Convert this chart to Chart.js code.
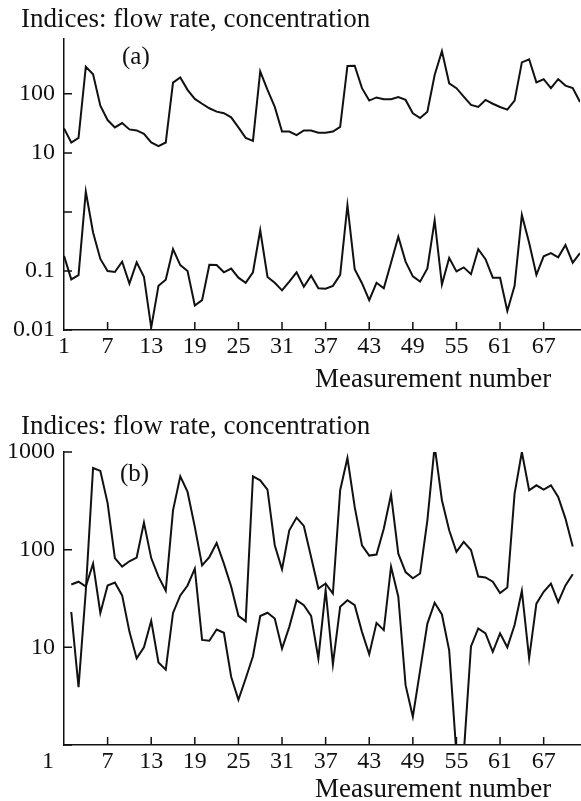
<!DOCTYPE html>
<html>
<head>
<meta charset="utf-8">
<script src="https://cdn.jsdelivr.net/npm/chart.js@4.4.1/dist/chart.umd.min.js"></script>
<style>
  html, body { margin: 0; padding: 0; background: #fff; }
  .panel { position: absolute; left: 0; width: 581px; }
  #panelA { top: 0; height: 400px; }
  #panelB { top: 400px; height: 401px; }
</style>
</head>
<body>
<div class="panel" id="panelA"><canvas id="chartA"></canvas></div>
<div class="panel" id="panelB"><canvas id="chartB"></canvas></div>
<script>
const measurementTicks = [1, 7, 13, 19, 25, 31, 37, 43, 49, 55, 61, 67];

// panel (a): measurements 1..72
const firstMeasurementA = 1;
const flowRateA = [26, 15, 18, 288, 215, 63, 36, 27, 32, 25, 24, 21, 15, 13, 15, 155, 190, 117, 82, 68,
  57, 50, 47, 40, 27, 18, 16, 240, 117, 60, 23, 23, 20, 24, 24, 22, 22, 23, 27.5, 297,
  300, 125, 77, 87, 81, 81, 88, 79, 47, 39, 50, 209, 530, 151, 125, 90, 65, 60, 79, 68,
  60, 54, 77, 342, 385, 157, 177, 125, 178, 138, 125, 73];
const concentrationA = [0.18, 0.072, 0.085, 2.2, 0.45, 0.16, 0.1, 0.096, 0.144, 0.061, 0.14, 0.08, 0.011, 0.056, 0.071, 0.234, 0.126, 0.1, 0.026, 0.032,
  0.127, 0.126, 0.095, 0.11, 0.077, 0.063, 0.095, 0.49, 0.079, 0.063, 0.047, 0.066, 0.095, 0.054, 0.083, 0.051, 0.05, 0.056, 0.086, 1.3,
  0.107, 0.062, 0.032, 0.063, 0.051, 0.138, 0.38, 0.144, 0.081, 0.066, 0.11, 0.72, 0.059, 0.166, 0.098, 0.115, 0.088, 0.234, 0.158, 0.077,
  0.077, 0.021, 0.056, 0.89, 0.3, 0.086, 0.177, 0.2, 0.17, 0.275, 0.138, 0.2];
const yTicksA = [0.01, 0.1, 1, 10, 100];
const yLabelsA = ['0.01', '0.1', '', '10', '100'];

// panel (b): measurements 2..71
const firstMeasurementB = 2;
const flowRateB = [23, 3.9, 38, 686, 640, 300, 82, 67, 76, 83, 189, 82, 53, 38, 253, 563, 390, 171, 69,
  84, 117, 72, 42, 21, 18.5, 564, 513, 412, 111, 63, 158, 213, 175, 84, 40, 45, 35.6, 406, 868,
  274, 111, 87, 89, 164, 366, 91, 59, 51, 57, 200, 1150, 321, 158, 95, 120, 99, 53, 52, 47,
  36, 41, 375, 1000, 406, 456, 412, 456, 347, 208, 108];
const concentrationB = [44, 47, 42, 72, 22.5, 43, 46, 34, 14.5, 7.7, 10, 18.7, 7, 5.9, 22.5, 34, 43, 64, 11.9,
  11.7, 15.2, 14.1, 5, 2.9, 4.8, 8.1, 20.9, 22.6, 19.7, 9.7, 16.2, 30.4, 27, 21, 7.7, 38.5, 6.7, 26, 30.4,
  27, 14.4, 8.5, 17.8, 15, 67, 33, 4.1, 1.95, 5.8, 17.5, 28.6, 21.7, 9.3, 0.8, 0.8, 10.2, 15.6, 13.9, 9,
  13.9, 10, 16.9, 37.8, 7.7, 28, 37, 45, 29, 43, 56];
const yTicksB = [1, 10, 100, 1000];
const yLabelsB = ['', '10', '100', '1000'];

const FONT = '"Liberation Serif", "Times New Roman", serif';
const INK = '#111';

function toPoints(values, first) {
  return values.map((v, i) => ({ x: first + i, y: v }));
}

// inward tick marks plus the free-standing texts of each panel
const panelText = {
  id: 'panelText',
  afterDraw(chart, args, opts) {
    const ctx = chart.ctx;
    const xs = chart.scales.x, ys = chart.scales.y;
    const area = chart.chartArea;
    ctx.save();
    ctx.strokeStyle = INK;
    ctx.lineWidth = 1.5;
    ctx.beginPath();
    opts.yTicks.forEach(v => {
      const py = ys.getPixelForValue(v);
      ctx.moveTo(area.left, py);
      ctx.lineTo(area.left + 8, py);
    });
    measurementTicks.slice(1).forEach(v => {
      const px = xs.getPixelForValue(v);
      ctx.moveTo(px, area.bottom);
      ctx.lineTo(px, area.bottom - 8);
    });
    ctx.stroke();

    ctx.fillStyle = INK;
    ctx.textAlign = 'left';
    ctx.textBaseline = 'alphabetic';
    ctx.font = '27px ' + FONT;
    ctx.fillText('Indices: flow rate, concentration', 21, opts.titleY);
    ctx.fillText('Measurement number', 315, opts.axisTitleY);
    ctx.font = '25px ' + FONT;
    ctx.fillText(opts.letter, opts.letterX, opts.letterY);

    // the "1" under panel (b) sits left of its tick
    if (opts.shiftFirst) {
      ctx.font = '24px ' + FONT;
      ctx.textAlign = 'center';
      ctx.textBaseline = 'middle';
      ctx.fillText('1', xs.getPixelForValue(1) - 16, area.bottom + 2 + 14.4);
    }
    ctx.restore();
  }
};

function makeChart(id, cfg) {
  return new Chart(document.getElementById(id), {
    type: 'line',
    data: {
      datasets: [
        { label: 'Flow rate', data: toPoints(cfg.flow, cfg.first) },
        { label: 'Concentration', data: toPoints(cfg.conc, cfg.first) }
      ]
    },
    options: {
      responsive: true,
      maintainAspectRatio: false,
      animation: false,
      layout: { padding: { left: 0, right: 1, top: cfg.top, bottom: 0 } },
      elements: {
        point: { radius: 0 },
        line: { borderColor: INK, borderWidth: 2, tension: 0, fill: false }
      },
      plugins: {
        legend: { display: false },
        tooltip: { enabled: false },
        panelText: cfg.text
      },
      scales: {
        x: {
          type: 'linear',
          min: 1,
          max: 72,
          afterBuildTicks: s => { s.ticks = measurementTicks.map(v => ({ value: v })); },
          afterFit: s => { s.height = cfg.xHeight; },
          grid: { display: false, drawTicks: false },
          border: { display: true, color: INK, width: 1.5 },
          ticks: {
            color: INK,
            font: { family: FONT, size: 24 },
            padding: 2,
            maxRotation: 0,
            autoSkip: false,
            callback: v => (cfg.text.shiftFirst && v === 1) ? '' : String(v)
          }
        },
        y: {
          type: 'logarithmic',
          min: cfg.yMin,
          max: cfg.yMax,
          afterBuildTicks: s => { s.ticks = cfg.yTicks.map(v => ({ value: v })); },
          afterFit: s => { s.width = 64; },
          grid: { display: false, drawTicks: false },
          border: { display: true, color: INK, width: 1.5 },
          ticks: {
            color: INK,
            font: { family: FONT, size: 24 },
            padding: 9,
            autoSkip: false,
            callback: (v, i) => cfg.yLabels[i]
          }
        }
      }
    },
    plugins: [panelText]
  });
}

makeChart('chartA', {
  flow: flowRateA, conc: concentrationA, first: firstMeasurementA,
  yMin: 0.01, yMax: 850, yTicks: yTicksA, yLabels: yLabelsA,
  top: 39, xHeight: 70,
  text: { yTicks: yTicksA, titleY: 27, axisTitleY: 387, letter: '(a)', letterX: 122, letterY: 64, shiftFirst: false }
});

makeChart('chartB', {
  flow: flowRateB, conc: concentrationB, first: firstMeasurementB,
  yMin: 1, yMax: 1000, yTicks: yTicksB, yLabels: yLabelsB,
  top: 52, xHeight: 56,
  text: { yTicks: yTicksB, titleY: 34, axisTitleY: 397, letter: '(b)', letterX: 120, letterY: 81, shiftFirst: true }
});
</script>
</body>
</html>
